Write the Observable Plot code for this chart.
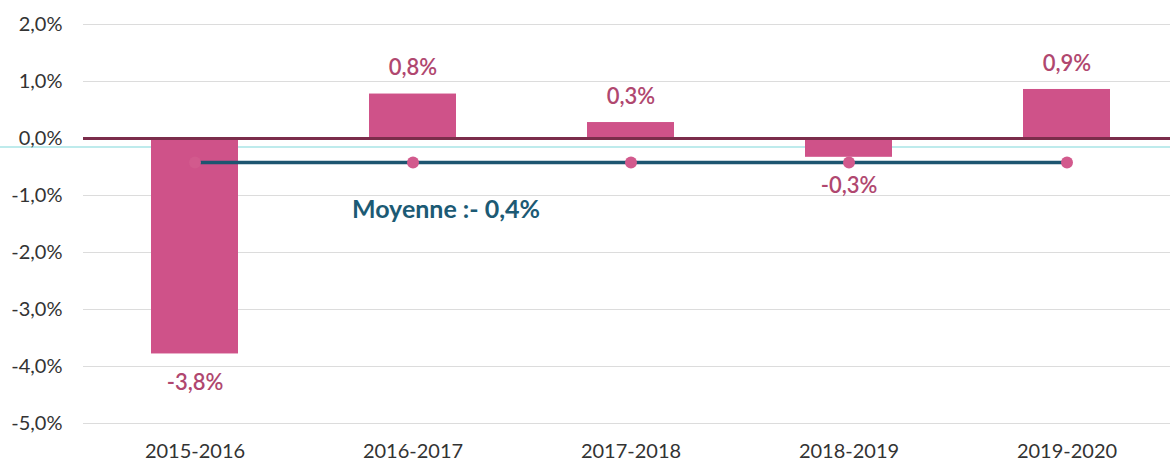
<!DOCTYPE html>
<html><head><meta charset="utf-8">
<script src="https://cdn.jsdelivr.net/npm/d3@7"></script>
<script src="https://cdn.jsdelivr.net/npm/@observablehq/plot@0.6"></script>
<style>
body{margin:0;background:#fff;}
#chart svg{display:block;}
</style>
</head><body><div id="chart"></div>
<script>
const periods = ["2015-2016", "2016-2017", "2017-2018", "2018-2019", "2019-2020"];
const values = [-3.78, 0.78, 0.28, -0.33, 0.86];
const average = -0.42;
const averageLabel = "Moyenne :- 0,4%";
const yTicks = [2, 1, 0, -1, -2, -3, -4, -5];
const refLine = [-0.15];

const fmt = v => v.toFixed(1).replace(".", ",") + "%";
const bars = periods.map((p, i) => ({period: p, value: values[i]}));
const avgPts = periods.map(p => ({period: p, value: average}));

const font = "Lato, 'Open Sans', sans-serif";
const plot = Plot.plot({
  width: 1170,
  height: 463,
  marginLeft: 83,
  marginRight: 0,
  marginTop: 24,
  marginBottom: 40,
  style: {fontFamily: font, fontSize: "18px", color: "#333", background: "#fff"},
  x: {domain: periods, range: [84, 1178], paddingInner: 0.6, paddingOuter: 0.3, label: null},
  y: {domain: [-5, 2], label: null},
  marks: [
    Plot.gridY(yTicks, {stroke: "#dcdcdc", strokeOpacity: 1, strokeWidth: 1.2}),
    Plot.ruleY(refLine, {stroke: "#a8e4e6", strokeWidth: 1.5, insetLeft: -83}),
    Plot.barY(bars, {x: "period", y: "value", fill: "#cf5289"}),
    Plot.ruleY([0], {stroke: "#7b2d4b", strokeWidth: 3}),
    Plot.line(avgPts, {x: "period", y: "value", stroke: "#1d5570", strokeWidth: 3.5}),
    Plot.dot(avgPts, {x: "period", y: "value", fill: "#d25a8d", r: 6}),
    Plot.text(bars.filter(d => d.value >= 0), {x: "period", y: "value", text: d => fmt(d.value), dy: -26, fill: "#b0476f", fontSize: 22, fontWeight: 600}),
    Plot.text(bars.filter(d => d.value < 0), {x: "period", y: "value", text: d => fmt(d.value), dy: 29, fill: "#b0476f", fontSize: 22, fontWeight: 600}),
    Plot.text([{period: periods[1], value: -1.3}], {x: "period", y: "value", text: () => averageLabel, dx: 33, dy: -3, fill: "#1c5a74", fontSize: 25, fontWeight: 700}),
    Plot.axisY(yTicks, {tickSize: 0, tickPadding: 21, tickFormat: fmt, fontSize: 20, fill: "#333"}),
    Plot.axisX({tickSize: 0, tickPadding: 20, fontSize: 20, fill: "#333"})
  ]
});
document.getElementById("chart").appendChild(plot);
</script>
</body></html>
